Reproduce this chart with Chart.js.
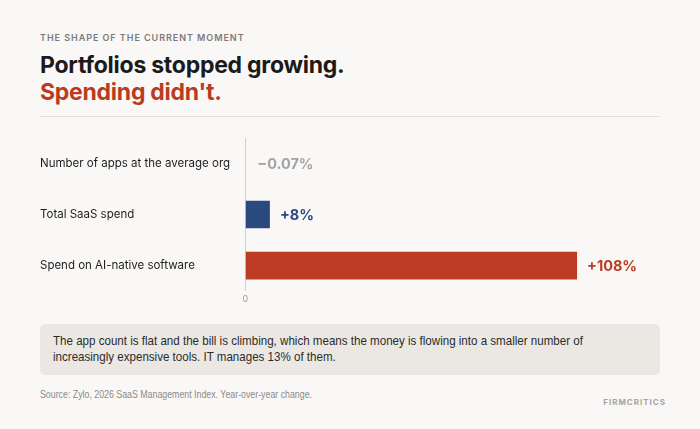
<!DOCTYPE html>
<html>
<head>
<meta charset="utf-8">
<script src="https://cdn.jsdelivr.net/npm/chart.js@4"></script>
<style>
  html,body{margin:0;padding:0;}
  body{width:700px;height:429px;background:#faf8f6;position:relative;overflow:hidden;font-family:Inter,"Noto Sans",sans-serif;}
  .kicker{position:absolute;left:40px;top:32px;font-size:9px;font-weight:600;letter-spacing:0.95px;color:#7a7a7a;}
  .title{position:absolute;left:40px;top:52px;font-size:23px;font-weight:700;line-height:27px;color:#1b1b1b;letter-spacing:-0.25px;}
  .title .red{color:#b93c22;}
  .rule{position:absolute;left:40px;top:116px;width:620px;height:1px;background:#e4e1dc;}
  #wrap{position:absolute;left:40px;top:131px;width:630px;height:177px;}
  .note{position:absolute;left:40px;top:324px;width:620px;height:51px;background:#ebe8e3;border-radius:5px;box-sizing:border-box;padding:9px 13px;font-family:"Liberation Sans",Arial,sans-serif;font-size:13px;line-height:16px;color:#2b2b2b;}
  .note span{display:block;white-space:nowrap;transform:scaleX(0.89);transform-origin:left center;}
  .source{position:absolute;left:40px;top:389px;font-family:"Liberation Sans",Arial,sans-serif;font-size:10px;color:#8a8a8a;white-space:nowrap;transform:scaleX(0.88);transform-origin:left center;}
  .brand{position:absolute;right:34px;top:397px;font-size:8px;font-weight:700;letter-spacing:1.0px;color:#a5a5a5;}
</style>
</head>
<body>
<div class="kicker">THE SHAPE OF THE CURRENT MOMENT</div>
<div class="title">Portfolios stopped growing.<br><span class="red">Spending didn't.</span></div>
<div class="rule"></div>
<div id="wrap"><canvas id="c"></canvas></div>
<div class="note"><span>The app count is flat and the bill is climbing, which means the money is flowing into a smaller number of</span><span>increasingly expensive tools. IT manages 13% of them.</span></div>
<div class="source">Source: Zylo, 2026 SaaS Management Index. Year-over-year change.</div>
<div class="brand">FIRMCRITICS</div>
<script>
const categories = ["Number of apps at the average org", "Total SaaS spend", "Spend on AI-native software"];
const values = [-0.07, 8, 108];
const valueLabels = ["\u22120.07%", "+8%", "+108%"];
const barColors = ["#a3a3a3", "#2a4a7f", "#bb3b23"];
const labelColors = ["#a3a3a3", "#2a4a7f", "#bb3b23"];

const valueLabelPlugin = {
  id: 'valueLabels',
  afterDatasetsDraw(chart) {
    const ctx = chart.ctx;
    const meta = chart.getDatasetMeta(0);
    const zero = chart.scales.x.getPixelForValue(0);
    ctx.save();
    ctx.font = '700 14.5px Inter, sans-serif';
    ctx.textBaseline = 'middle';
    ctx.textAlign = 'left';
    meta.data.forEach((bar, i) => {
      const end = Math.max(bar.x, zero + 2);
      ctx.fillStyle = labelColors[i];
      ctx.fillText(valueLabels[i], end + 10, bar.y + 1);
    });
    ctx.restore();
  }
};

new Chart(document.getElementById('c'), {
  type: 'bar',
  data: {
    labels: categories,
    datasets: [{
      data: values,
      backgroundColor: barColors,
      borderWidth: 0,
      barPercentage: 0.54,
      categoryPercentage: 1,
      minBarLength: 2
    }]
  },
  options: {
    indexAxis: 'y',
    responsive: true,
    maintainAspectRatio: false,
    animation: false,
    layout: { padding: { top: 6, right: 10, left: 0, bottom: 0 } },
    plugins: { legend: { display: false }, tooltip: { enabled: false } },
    scales: {
      x: {
        min: -0.1,
        max: 135,
        afterBuildTicks(scale) { scale.ticks = [{ value: 0 }]; },
        ticks: { color: '#9a9a9a', font: { family: 'Inter', size: 9 }, padding: 3, callback: v => '0' },
        grid: { drawTicks: false, color: '#cfcfcf', lineWidth: 1 },
        border: { display: false }
      },
      y: {
        afterFit(scale) { scale.width = 205; },
        ticks: { color: '#1e1e1e', font: { family: 'Inter', size: 11.5 }, crossAlign: 'far', padding: 0 },
        grid: { display: false, drawTicks: false },
        border: { display: false }
      }
    }
  },
  plugins: [valueLabelPlugin]
});
</script>
</body>
</html>
